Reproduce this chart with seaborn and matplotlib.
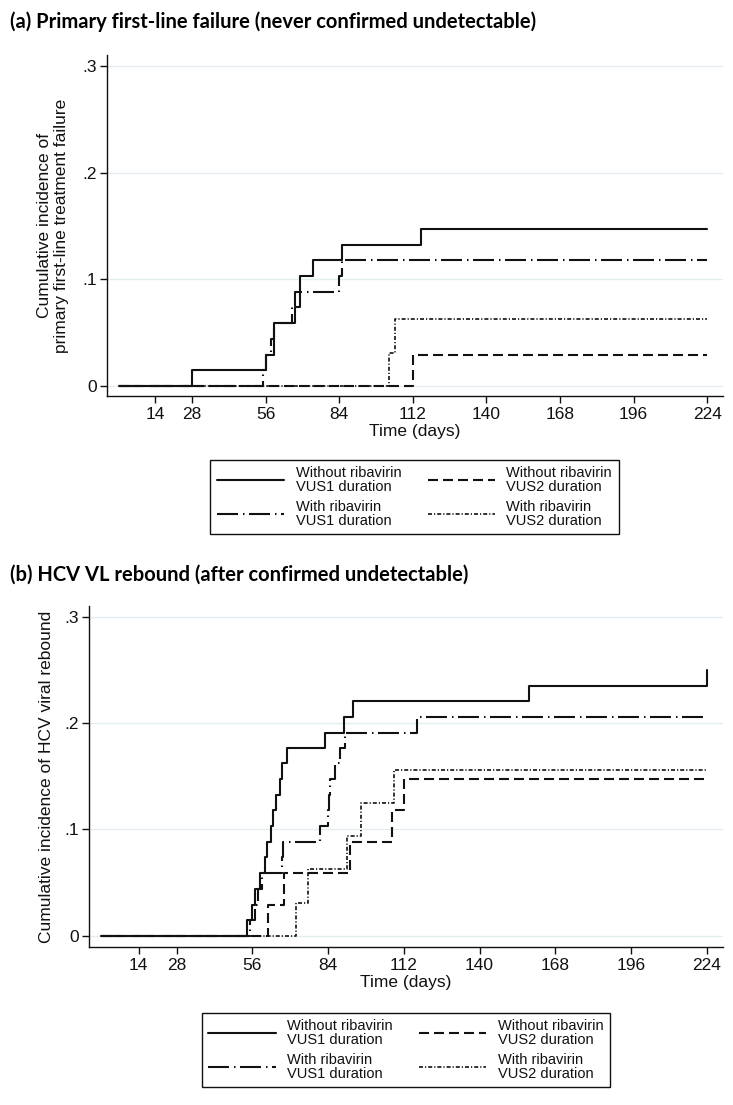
import matplotlib
matplotlib.use("Agg")
import matplotlib.pyplot as plt
import seaborn as sns
import pandas as pd
from matplotlib.lines import Line2D

sns.set_theme(style="white")
plt.rcParams["font.family"] = ["Liberation Sans", "DejaVu Sans"]
plt.rcParams["lines.scale_dashes"] = False

# ---------------- data ----------------
series_names = ["Without ribavirin\nVUS1 duration", "Without ribavirin\nVUS2 duration",
                "With ribavirin\nVUS1 duration", "With ribavirin\nVUS2 duration"]
x_ticks = [14, 28, 56, 84, 112, 140, 168, 196, 224]
y_ticks = [0, 0.1, 0.2, 0.3]
y_ticklabels = ["0", ".1", ".2", ".3"]

# Panel (a): primary first-line failure
a_wo_vus1_t = [0, 28, 56, 59, 67, 69, 74, 85, 115, 224]
a_wo_vus1_v = [0, .015, .029, .059, .074, .103, .118, .132, .147, .147]
a_wo_vus2_t = [0, 112, 224]
a_wo_vus2_v = [0, .029, .029]
a_w_vus1_t = [0, 55, 56, 58, 59, 66, 67, 84, 85, 224]
a_w_vus1_v = [0, .015, .029, .044, .059, .074, .088, .103, .118, .118]
a_w_vus2_t = [0, 103, 105, 224]
a_w_vus2_v = [0, .031, .0625, .0625]

# Panel (b): HCV VL rebound
b_wo_vus1_t = [0, 54, 56, 57, 59, 60.8, 61.5, 62.8, 63.5, 64.9, 66.1, 67, 68.9, 83, 89.9, 93.1, 158.4, 224, 224]
b_wo_vus1_v = [0, .015, .029, .044, .059, .074, .088, .103, .118, .132, .147, .162, .176, .191, .206, .221, .235, .235, .25]
b_wo_vus2_t = [0, 61.6, 67.8, 92.1, 107.6, 112.1, 224]
b_wo_vus2_v = [0, .029, .059, .088, .118, .147, .147]
b_w_vus1_t = [0, 55, 57, 58, 59.5, 66.8, 67.5, 81, 83.8, 84.3, 84.8, 86.5, 88.4, 90.2, 116.8, 224]
b_w_vus1_v = [0, .015, .029, .044, .059, .074, .088, .103, .118, .132, .147, .162, .176, .191, .206, .206]
b_w_vus2_t = [0, 72, 76.7, 91, 96, 108.3, 224]
b_w_vus2_v = [0, .031, .0625, .094, .125, .156, .156]

# ---------------- styles ----------------
PX = 0.72  # points per pixel at dpi 100
styles = {
    series_names[0]: "",
    series_names[1]: (10 * PX, 5 * PX),
    series_names[2]: (21 * PX, 5 * PX, 1.5 * PX, 4.5 * PX),
    series_names[3]: (4 * PX, 2 * PX, 1.2 * PX, 2 * PX),
}
widths = {series_names[0]: 1.5, series_names[1]: 1.5, series_names[2]: 1.5, series_names[3]: 1.2}
INK = "#111111"
GRID = "#e4edf0"


def make_df(groups):
    frames = []
    for name, t, v in groups:
        frames.append(pd.DataFrame({"t": t, "v": v, "group": name}))
    return pd.concat(frames, ignore_index=True)


df_a = make_df([(series_names[0], a_wo_vus1_t, a_wo_vus1_v),
                (series_names[1], a_wo_vus2_t, a_wo_vus2_v),
                (series_names[2], a_w_vus1_t, a_w_vus1_v),
                (series_names[3], a_w_vus2_t, a_w_vus2_v)])
df_b = make_df([(series_names[0], b_wo_vus1_t, b_wo_vus1_v),
                (series_names[1], b_wo_vus2_t, b_wo_vus2_v),
                (series_names[2], b_w_vus1_t, b_w_vus1_v),
                (series_names[3], b_w_vus2_t, b_w_vus2_v)])

W, H = 733, 1105
fig = plt.figure(figsize=(W / 100, H / 100), dpi=100)
fig.patch.set_facecolor("white")


def axes_px(left, right, top, bottom):
    return fig.add_axes([left / W, 1 - bottom / H, (right - left) / W, (bottom - top) / H])


ax_a = axes_px(107, 723, 55, 396)
ax_b = axes_px(89, 723, 606, 947)


def draw_panel(ax, df, ylim, ylabel, ylabel_x):
    for name in series_names:
        sub = df[df["group"] == name]
        sns.lineplot(data=sub, x="t", y="v", ax=ax, estimator=None, sort=False,
                     drawstyle="steps-post", color=INK, linewidth=widths[name], legend=False)
        line = ax.lines[-1]
        if styles[name]:
            line.set_dashes(styles[name])
        line.set_zorder(3)
    ax.set_xlim(-4.4, 230)
    ax.set_ylim(*ylim)
    ax.set_xticks(x_ticks)
    ax.set_xticklabels([str(t) for t in x_ticks])
    ax.set_yticks(y_ticks)
    ax.set_yticklabels(y_ticklabels)
    ax.grid(axis="y", color=GRID, linewidth=1.0)
    ax.grid(axis="x", visible=False)
    ax.set_axisbelow(True)
    for s in ["top", "right"]:
        ax.spines[s].set_visible(False)
    for s in ["left", "bottom"]:
        ax.spines[s].set_color(INK)
        ax.spines[s].set_linewidth(1.0)
    ax.tick_params(axis="both", direction="out", length=5, width=1.0, color=INK,
                   labelsize=12.5, labelcolor=INK, left=True, bottom=True)
    ax.tick_params(axis="x", pad=3)
    ax.tick_params(axis="y", pad=2)
    ax.set_xlabel("Time (days)", fontsize=12.5, color=INK, labelpad=1)
    ax.set_ylabel(ylabel, fontsize=12.5, color=INK, linespacing=1.2)
    ax.yaxis.label.set_verticalalignment("center")
    ax.yaxis.set_label_coords(ylabel_x, 0.5)
    ax.set_facecolor("white")


draw_panel(ax_a, df_a, (-0.0091, 0.310),
           "Cumulative incidence of\nprimary first-line treatment failure", (53 - 107) / 616)
draw_panel(ax_b, df_b, (-0.0107, 0.31),
           "Cumulative incidence of HCV viral rebound", (47 - 89) / 634)

# legends
order = [0, 2, 1, 3]


def add_legend(center_x, center_y):
    handles = []
    for i in order:
        name = series_names[i]
        h = Line2D([0], [0], color=INK, linewidth=widths[name])
        if styles[name]:
            h.set_dashes(styles[name])
        handles.append(h)
    leg = fig.legend(handles, [series_names[i] for i in order], ncol=2,
                     loc="center", bbox_to_anchor=(center_x / W, 1 - center_y / H),
                     frameon=True, fancybox=False, framealpha=1, edgecolor=INK,
                     fontsize=10.5, handlelength=4.6, handletextpad=0.8,
                     columnspacing=1.8, labelspacing=0.4, borderpad=0.45)
    leg.get_frame().set_linewidth(1.0)
    for t in leg.get_texts():
        t.set_linespacing(1.0)
        t.set_color(INK)
    return leg


add_legend(414.5, 497)
add_legend(406, 1050)

# panel titles
title_kw = dict(fontsize=14.5, fontweight="bold", color="black", va="center", ha="left",
                family=["Lato", "DejaVu Sans"])
fig.text(10 / W, 1 - 22 / H, "(a) Primary first-line failure (never confirmed undetectable)", **title_kw)
fig.text(10 / W, 1 - 575 / H, "(b) HCV VL rebound (after confirmed undetectable)", **title_kw)

fig.savefig("out.png", dpi=100, facecolor="white")
